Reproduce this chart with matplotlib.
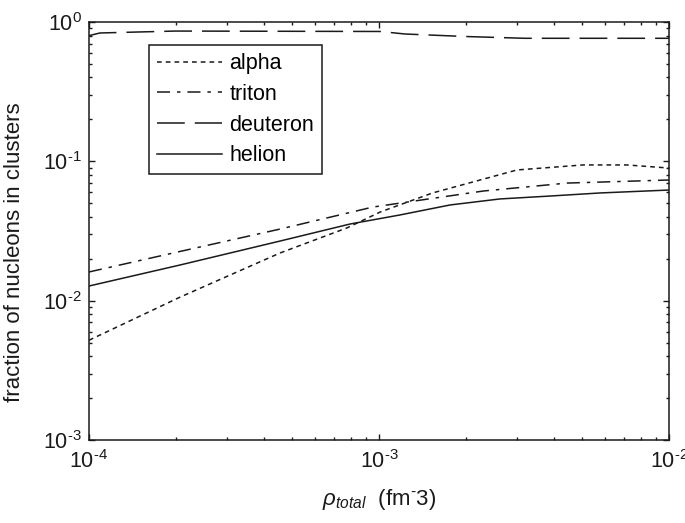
import matplotlib
matplotlib.use("Agg")
import matplotlib.pyplot as plt

plt.rcParams['font.family'] = ['Liberation Sans', 'DejaVu Sans']
plt.rcParams['mathtext.fontset'] = 'custom'
plt.rcParams['mathtext.rm'] = 'Liberation Sans'
plt.rcParams['mathtext.it'] = 'Liberation Sans:italic'
plt.rcParams['mathtext.default'] = 'regular'
plt.rcParams['lines.scale_dashes'] = False

# ---- data ----
alpha_x = [1.00e-4, 2.06e-4, 4.56e-4, 7.76e-4, 1.01e-3, 1.53e-3, 2.99e-3, 5.05e-3, 7.16e-3, 1.00e-2]
alpha_y = [5.2e-3, 1.06e-2, 2.20e-2, 3.33e-2, 4.33e-2, 5.93e-2, 8.67e-2, 9.42e-2, 9.42e-2, 8.95e-2]

triton_x = [1.00e-4, 1.95e-4, 4.56e-4, 9.53e-4, 2.29e-3, 4.45e-3, 1.00e-2]
triton_y = [0.01607, 0.02198, 0.03266, 0.04699, 0.06124, 0.06982, 0.07345]

deuteron_x = [1.00e-4, 1.09e-4, 1.98e-4, 1.01e-3, 1.23e-3, 1.98e-3, 3.18e-3, 1.00e-2]
deuteron_y = [0.798, 0.834, 0.861, 0.855, 0.820, 0.787, 0.764, 0.764]

helion_x = [1.00e-4, 2.06e-4, 4.56e-4, 7.94e-4, 1.18e-3, 1.76e-3, 2.61e-3, 3.89e-3, 5.78e-3, 1.00e-2]
helion_y = [0.01274, 0.01803, 0.02679, 0.03548, 0.04121, 0.04864, 0.05370, 0.05636, 0.05929, 0.06223]

series_labels = ['alpha', 'triton', 'deuteron', 'helion']
xticks = [1e-4, 1e-3, 1e-2]
xtick_labels = [r'$10^{\text{-}4}$', r'$10^{\text{-}3}$', r'$10^{\text{-}2}$']
yticks = [1e-3, 1e-2, 1e-1, 1e0]
ytick_labels = [r'$10^{\text{-}3}$', r'$10^{\text{-}2}$', r'$10^{\text{-}1}$', r'$10^{0}$']

# ---- figure ----
fig = plt.figure(figsize=(6.85, 5.23), dpi=100)
ax = fig.add_axes([89/685, 1 - 440/523, 580/685, 418/523])

col = '#1a1a1a'
lw = 1.1
ax.plot(alpha_x, alpha_y, color=col, lw=lw, dashes=(3.4, 2.9), label=series_labels[0])
ax.plot(triton_x, triton_y, color=col, lw=lw, dashes=(9.4, 5.0, 2.5, 5.0), label=series_labels[1])
ax.plot(deuteron_x, deuteron_y, color=col, lw=lw, dashes=(20, 7.2), label=series_labels[2])
ax.plot(helion_x, helion_y, color=col, lw=lw, label=series_labels[3])

ax.set_xscale('log')
ax.set_yscale('log')
ax.set_xlim(1e-4, 1e-2)
ax.set_ylim(1e-3, 1e0)
ax.set_xticks(xticks)
ax.set_xticklabels(xtick_labels)
ax.set_yticks(yticks)
ax.set_yticklabels(ytick_labels)

for s in ax.spines.values():
    s.set_linewidth(1.1)
    s.set_color(col)

ax.tick_params(which='both', direction='in', top=True, right=True, colors=col, labelsize=15.5)
ax.tick_params(which='major', length=4, width=1)
ax.tick_params(which='minor', length=2.5, width=1)
ax.tick_params(axis='x', which='major', pad=7)
ax.tick_params(axis='y', which='major', pad=5)

ax.set_ylabel('fraction of nucleons in clusters', fontsize=16, color=col)
ax.yaxis.set_label_coords(-0.11, 0.45)
ax.set_xlabel(r'$\mathit{\rho_{total}}$  (fm$^{\text{-}}$3)', fontsize=16, color=col)
ax.xaxis.set_label_coords(0.5, -0.112)

leg = ax.legend(loc='upper left', bbox_to_anchor=((149-89)/580, (440-45)/418),
                fontsize=15.5, frameon=True, fancybox=False, framealpha=1,
                edgecolor=col, handlelength=3.0, handletextpad=0.35,
                labelspacing=0.45, borderpad=0.38, borderaxespad=0)
leg.get_frame().set_linewidth(1.1)

fig.savefig('out.png', dpi=100)
